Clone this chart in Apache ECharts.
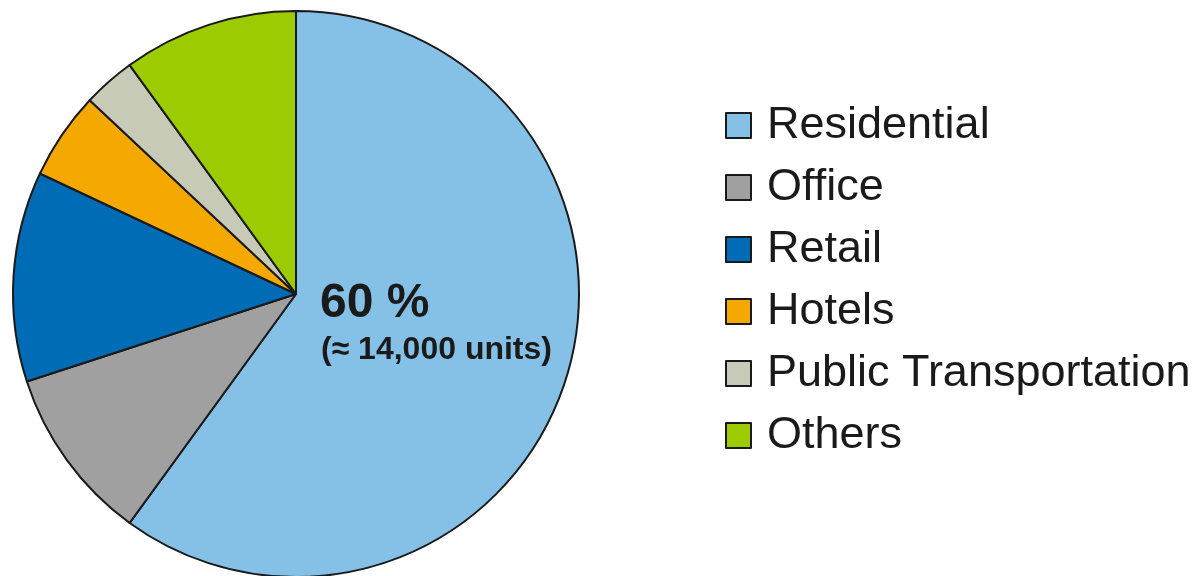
<!DOCTYPE html>
<html>
<head>
<meta charset="utf-8">
<script src="https://cdn.jsdelivr.net/npm/echarts@6/dist/echarts.min.js"></script>
<style>
  html, body { margin: 0; padding: 0; background: #fff; }
  #chart { width: 1197px; height: 576px; }
</style>
</head>
<body>
<div id="chart"></div>
<script>
const categories = ['Residential', 'Office', 'Retail', 'Hotels', 'Public Transportation', 'Others'];
const shares = [60, 10, 12, 5, 3, 10];
const colors = ['#85c1e6', '#a0a0a0', '#006cb6', '#f5a800', '#c8cab8', '#9bcb00'];

const chart = echarts.init(document.getElementById('chart'));

const option = {
    animation: false,
    legend: {
        orient: 'vertical',
        left: 725,
        top: 103,
        padding: 0,
        itemWidth: 25,
        itemHeight: 25,
        itemGap: 17,
        icon: 'rect',
        data: categories,
        textStyle: {
            fontFamily: 'Liberation Sans',
            fontSize: 45,
            color: '#1a1a1a',
            padding: [0, 0, 0, 11],
        },
    },
    graphic: [
        {
            type: 'text',
            z: 100,
            left: 320,
            top: 280,
            style: {
                text: '60 %',
                font: 'bold 48px "Liberation Sans"',
                fill: '#1a1a1a',
            },
        },
        {
            type: 'text',
            z: 100,
            left: 321,
            top: 334,
            style: {
                text: '(≈ 14,000 units)',
                font: 'bold 32px "Liberation Sans"',
                fill: '#1a1a1a',
            },
        },
    ],
    series: [
        {
            type: 'pie',
            center: [296, 294],
            radius: 283,
            startAngle: 90,
            clockwise: true,
            label: { show: false },
            labelLine: { show: false },
            emphasis: { disabled: true },
            itemStyle: {
                borderColor: '#1a1a1a',
                borderWidth: 2,
            },
            data: categories.map((name, i) => ({
                name,
                value: shares[i],
                itemStyle: { color: colors[i] },
            })),
        },
    ],
};

chart.setOption(option);
</script>
</body>
</html>
